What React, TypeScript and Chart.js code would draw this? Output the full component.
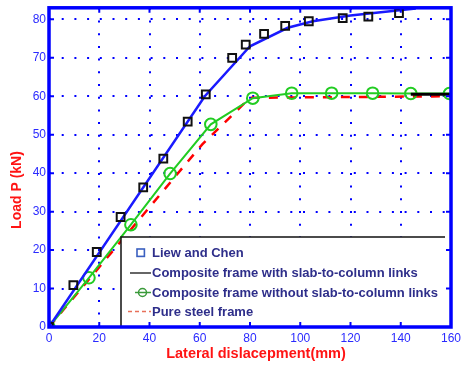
import React, { useEffect, useRef } from 'react';
import { Chart, registerables } from 'chart.js';

Chart.register(...registerables);

// ---- data ----
const xTicks = [0, 20, 40, 60, 80, 100, 120, 140, 160];
const yTicks = [0, 10, 20, 30, 40, 50, 60, 70, 80];

const liewX = [0, 9.7, 19.0, 28.5, 37.5, 45.5, 55.2, 62.4, 72.9, 78.3, 85.6, 94.0, 103.4, 116.9, 127.1, 139.3];
const liewY = [0, 10.9, 19.5, 28.6, 36.3, 43.8, 53.4, 60.5, 70.0, 73.4, 76.2, 78.3, 79.5, 80.3, 80.7, 81.6];

const withLinksX = [0, 62, 80, 95, 105, 120, 146];
const withLinksY = [0, 60, 73, 77.8, 79.5, 81, 82.8];

const withoutLinksX = [0, 15.9, 32.6, 48.2, 64.4, 81.1, 96.6, 112.5, 128.8, 144.0, 159.4];
const withoutLinksY = [0, 12.8, 26.6, 39.9, 52.7, 59.5, 60.8, 60.8, 60.8, 60.7, 60.7];

const steelX = [0, 61, 80, 160];
const steelY = [0, 47.5, 59.6, 60];

const segX = [144, 160];
const segY = [60.5, 60.5];

const legendLabels = [
  'Liew and Chen',
  'Composite frame with slab-to-column links',
  'Composite frame without slab-to-column links',
  'Pure steel frame',
];
const xTitle = 'Lateral dislacepment(mm)';
const yTitle = 'Load P (kN)';

const pts = (xs: number[], ys: number[]) => xs.map((x, i) => ({ x, y: ys[i] }));

const FONT = '"Liberation Sans", Arial, Helvetica, sans-serif';
const BLUE = '#0000ff';
const TICK_BLUE = '#2a2aff';
const RED = '#ff1414';

const CANVAS_W = 472;

const decorPlugin = {
  id: 'decor',
  afterDatasetsDraw(chart: any) {
    const { ctx, chartArea } = chart;
    const { left, top, right, bottom } = chartArea;
    const xs = chart.scales.x;
    const ys = chart.scales.y;
    ctx.save();

    // legend box
    const lx = 121, ly = 237, rx = 445;
    ctx.fillStyle = '#ffffff';
    ctx.fillRect(lx, ly, rx - lx, bottom - ly);
    ctx.strokeStyle = '#111111';
    ctx.lineWidth = 1.5;
    ctx.beginPath();
    ctx.moveTo(lx, bottom);
    ctx.lineTo(lx, ly);
    ctx.lineTo(rx, ly);
    ctx.stroke();

    const rows = [252.7, 273, 292.5, 311.5];
    // row 1: square
    ctx.strokeStyle = '#3a5fc0';
    ctx.lineWidth = 1.6;
    ctx.strokeRect(137, rows[0] - 3.7, 7.4, 7.4);
    // row 2: black line
    ctx.strokeStyle = '#333333';
    ctx.lineWidth = 1.5;
    ctx.beginPath();
    ctx.moveTo(130, rows[1]);
    ctx.lineTo(151, rows[1]);
    ctx.stroke();
    // row 3: green line + circle
    ctx.strokeStyle = '#3a9a3a';
    ctx.beginPath();
    ctx.moveTo(135, rows[2]);
    ctx.lineTo(151, rows[2]);
    ctx.stroke();
    ctx.beginPath();
    ctx.arc(142.5, rows[2], 4, 0, Math.PI * 2);
    ctx.stroke();
    // row 4: red dashed
    ctx.strokeStyle = '#e8705a';
    ctx.setLineDash([4, 3]);
    ctx.beginPath();
    ctx.moveTo(128, rows[3]);
    ctx.lineTo(151, rows[3]);
    ctx.stroke();
    ctx.setLineDash([]);

    ctx.fillStyle = '#2e2e8a';
    ctx.font = `bold 13px ${FONT}`;
    ctx.textBaseline = 'middle';
    ctx.textAlign = 'left';
    legendLabels.forEach((t, i) => ctx.fillText(t, 152, rows[i] + 0.5));

    // frame
    ctx.strokeStyle = BLUE;
    ctx.lineWidth = 3.5;
    ctx.strokeRect(left, top, right - left, bottom - top);

    // inner tick marks
    ctx.lineWidth = 2;
    ctx.beginPath();
    xTicks.forEach((v) => {
      const px = xs.getPixelForValue(v);
      ctx.moveTo(px, top);
      ctx.lineTo(px, top + 5);
      ctx.moveTo(px, bottom);
      ctx.lineTo(px, bottom - 5);
    });
    yTicks.forEach((v) => {
      const py = ys.getPixelForValue(v);
      ctx.moveTo(left, py);
      ctx.lineTo(left + 5, py);
      ctx.moveTo(right, py);
      ctx.lineTo(right - 5, py);
    });
    ctx.stroke();
    ctx.restore();
  },
  afterDraw(chart: any) {
    const { ctx } = chart;
    ctx.save();
    ctx.fillStyle = RED;
    ctx.textAlign = 'center';
    ctx.textBaseline = 'middle';
    ctx.font = `bold 14.5px ${FONT}`;
    ctx.fillText(xTitle, 256, 353.5);
    ctx.translate(17.5, 190);
    ctx.rotate(-Math.PI / 2);
    ctx.font = `bold 14px ${FONT}`;
    ctx.fillText(yTitle, 0, 0);
    ctx.restore();
  },
};

const zeroPad = (s: any) => {
  s.paddingLeft = 0;
  s.paddingRight = 0;
  s.paddingTop = 0;
  s.paddingBottom = 0;
};

export default function App() {
  const ref = useRef<HTMLCanvasElement>(null);

  useEffect(() => {
    if (!ref.current) return;
    const chart = new Chart(ref.current, {
      type: 'line',
      data: {
        datasets: [
          {
            label: legendLabels[0],
            data: pts(liewX, liewY),
            showLine: false,
            pointStyle: 'rect',
            pointRadius: 5.5,
            borderColor: '#111111',
            backgroundColor: 'rgba(0,0,0,0)',
            pointBorderWidth: 2,
          },
          {
            label: legendLabels[1],
            data: pts(withLinksX, withLinksY),
            borderColor: '#1a1aff',
            borderWidth: 2.5,
            pointRadius: 0,
            tension: 0,
          },
          {
            label: 'seg',
            data: pts(segX, segY),
            borderColor: '#000000',
            borderWidth: 3,
            pointRadius: 0,
          },
          {
            label: legendLabels[2],
            data: pts(withoutLinksX, withoutLinksY),
            borderColor: '#22cc22',
            borderWidth: 2,
            pointStyle: 'circle',
            pointRadius: 5.8,
            pointBorderWidth: 2,
            pointBorderColor: '#22cc22',
            pointBackgroundColor: 'rgba(0,0,0,0)',
          },
          {
            label: legendLabels[3],
            data: pts(steelX, steelY),
            borderColor: '#ff0000',
            borderWidth: 2.5,
            borderDash: [9, 9],
            pointRadius: 0,
          },
        ],
      },
      options: {
        animation: false,
        responsive: false,
        maintainAspectRatio: false,
        layout: { padding: { left: 0, top: 5, right: CANVAS_W - 451, bottom: 0 } },
        plugins: { legend: { display: false }, tooltip: { enabled: false }, title: { display: false } },
        scales: {
          x: {
            type: 'linear',
            min: 0,
            max: 160,
            ticks: {
              stepSize: 20,
              color: TICK_BLUE,
              font: { family: FONT, size: 12 },
              padding: 4,
              maxRotation: 0,
              autoSkip: false,
            },
            grid: { color: BLUE, lineWidth: 2, drawTicks: false },
            border: { display: false, dash: [2, 10.7] },
            afterBuildTicks: (s: any) => {
              s.ticks = xTicks.map((v) => ({ value: v }));
            },
            afterFit: (s: any) => {
              s.height = 42;
              zeroPad(s);
            },
          },
          y: {
            type: 'linear',
            min: 0,
            max: 83,
            ticks: {
              stepSize: 10,
              color: TICK_BLUE,
              font: { family: FONT, size: 12 },
              padding: 3,
              autoSkip: false,
            },
            grid: { color: BLUE, lineWidth: 2, drawTicks: false },
            border: { display: false, dash: [2, 10.7] },
            afterBuildTicks: (s: any) => {
              s.ticks = yTicks.map((v) => ({ value: v }));
            },
            afterFit: (s: any) => {
              s.width = 49;
              zeroPad(s);
            },
          },
        },
      },
      plugins: [decorPlugin],
    } as any);
    return () => chart.destroy();
  }, []);

  return (
    <div style={{ position: 'fixed', left: 0, top: 0, width: 461, height: 369, overflow: 'hidden', background: '#fff' }}>
      <canvas ref={ref} width={CANVAS_W} height={369} style={{ display: 'block', width: CANVAS_W, height: 369 }} />
    </div>
  );
}
